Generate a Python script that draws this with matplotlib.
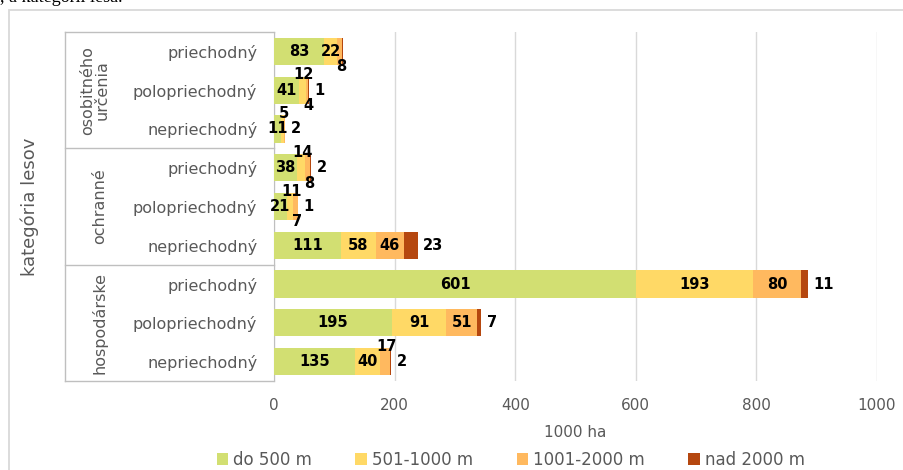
import matplotlib.pyplot as plt
import matplotlib.transforms as mtransforms
from matplotlib.lines import Line2D
from matplotlib.patches import Rectangle, Patch


# Data (rows listed top to bottom)
groups = ["osobitného\nurčenia", "ochranné", "hospodárske"]
rows = ["priechodný", "polopriechodný", "nepriechodný"] * 3
series = ["do 500 m", "501-1000 m", "1001-2000 m", "nad 2000 m"]

do_500 = [83, 41, 11, 38, 21, 111, 601, 195, 135]
m_501_1000 = [22, 12, 5, 14, 11, 58, 193, 91, 40]
m_1001_2000 = [8, 4, 2, 8, 7, 46, 80, 51, 17]
nad_2000 = [1, 1, 1, 2, 1, 23, 11, 7, 2]

# label placement per row and series: c=center, a=above, b=below, r=right of bar, None=hidden
label_pos = [
    ["c", "c", "b", None],
    ["c", "a", "b", "r"],
    ["c", "a", "r", None],
    ["c", "a", "b", "r"],
    ["c", "a", "b", "r"],
    ["c", "c", "c", "r"],
    ["c", "c", "c", "r"],
    ["c", "c", "c", "r"],
    ["c", "c", "a", "r"],
]

colors = ["#D2DF72", "#FFD966", "#FFB95F", "#B5470F"]
FONT = "DejaVu Sans"
GRAY = "#595959"

plt.rcParams.update({
    "font.family": FONT,
    "font.size": 10.5,
})

fig = plt.figure(figsize=(9.04, 4.70), dpi=100)
ax = fig.add_axes([274 / 904, 1 - 381 / 470, 603 / 904, 349 / 470])

# chart frame
fig.add_artist(Rectangle((9 / 904, -0.5), 2.0, 1.5 - 10 / 470,
                         transform=fig.transFigure, fill=False,
                         edgecolor="#D9D9D9", linewidth=1.3))
fig.text(0.0, 1.0 + 3 / 470, ", a kategórií lesa.", family="Liberation Serif",
         fontsize=13, va="center", ha="left")

values = [do_500, m_501_1000, m_1001_2000, nad_2000]
n = len(rows)
y = list(range(n))
left = [0] * n
for vals, col, name in zip(values, colors, series):
    ax.barh(y, vals, left=left, color=col, height=0.7, label=name, zorder=3)
    left = [l + v for l, v in zip(left, vals)]

totals = left
# data labels
starts = [0] * n
for s, vals in enumerate(values):
    for i in range(n):
        pos = label_pos[i][s]
        v = vals[i]
        mid = starts[i] + v / 2
        kw = dict(fontsize=10.5, fontweight="bold", color="black", zorder=5,
                  textcoords="offset points", va="center")
        if pos == "c":
            ax.annotate(str(v), (mid, i), xytext=(0, 0), ha="center", **kw)
        elif pos == "a":
            ax.annotate(str(v), (mid, i), xytext=(1, 11), ha="center", **kw)
        elif pos == "b":
            ax.annotate(str(v), (mid, i), xytext=(1, -11), ha="center", **kw)
        elif pos == "r":
            ax.annotate(str(v), (totals[i], i), xytext=(4, 0), ha="left", **kw)
        starts[i] += v

ax.set_ylim(n - 0.5, -0.5)
ax.set_xlim(0, 1000)
ax.set_xticks(range(0, 1001, 200))
ax.set_yticks(y)
ax.set_yticklabels(rows)
ax.tick_params(axis="y", length=0, pad=12, labelcolor=GRAY, labelsize=11.5)
ax.tick_params(axis="x", length=0, pad=12, labelcolor=GRAY, labelsize=11)
ax.grid(axis="x", color="#D9D9D9", linewidth=1.0, zorder=0)
ax.set_axisbelow(True)
for side in ["top", "right", "bottom"]:
    ax.spines[side].set_visible(False)
ax.spines["left"].set_color("#BFBFBF")
ax.set_xlabel("1000 ha", color=GRAY, fontsize=11, labelpad=9)

# hierarchical category box
tr = mtransforms.blended_transform_factory(fig.transFigure, ax.transData)
x0, x1 = 65 / 904, 274 / 904
for b in [-0.5, 2.5, 5.5, 8.5]:
    fig.add_artist(Line2D([x0, x1], [b, b], transform=tr, color="#BFBFBF", linewidth=1.0))
fig.add_artist(Line2D([x0, x0], [-0.5, 8.5], transform=tr, color="#BFBFBF", linewidth=1.0))
group_x = [95 / 904, 100 / 904, 100 / 904]
for g, (name, gx) in enumerate(zip(groups, group_x)):
    fig.text(gx, g * 3 + 1, name, transform=tr, rotation=90, ha="center", va="center",
             color=GRAY, fontsize=11.5, linespacing=0.95)

fig.text(30 / 904, 1 - 207 / 470, "kategória lesov", rotation=90, ha="center",
         va="center", color=GRAY, fontsize=13)

handles = [Patch(facecolor=c, edgecolor="none") for c in colors]
fig.legend(handles, series, loc="center", bbox_to_anchor=(0.565, 1 - 460 / 470),
           ncol=4, frameon=False, handlelength=0.7, handleheight=0.7,
           handletextpad=0.3, columnspacing=2.6, fontsize=12,
           labelcolor=GRAY)

fig.savefig("out.png", dpi=100)
